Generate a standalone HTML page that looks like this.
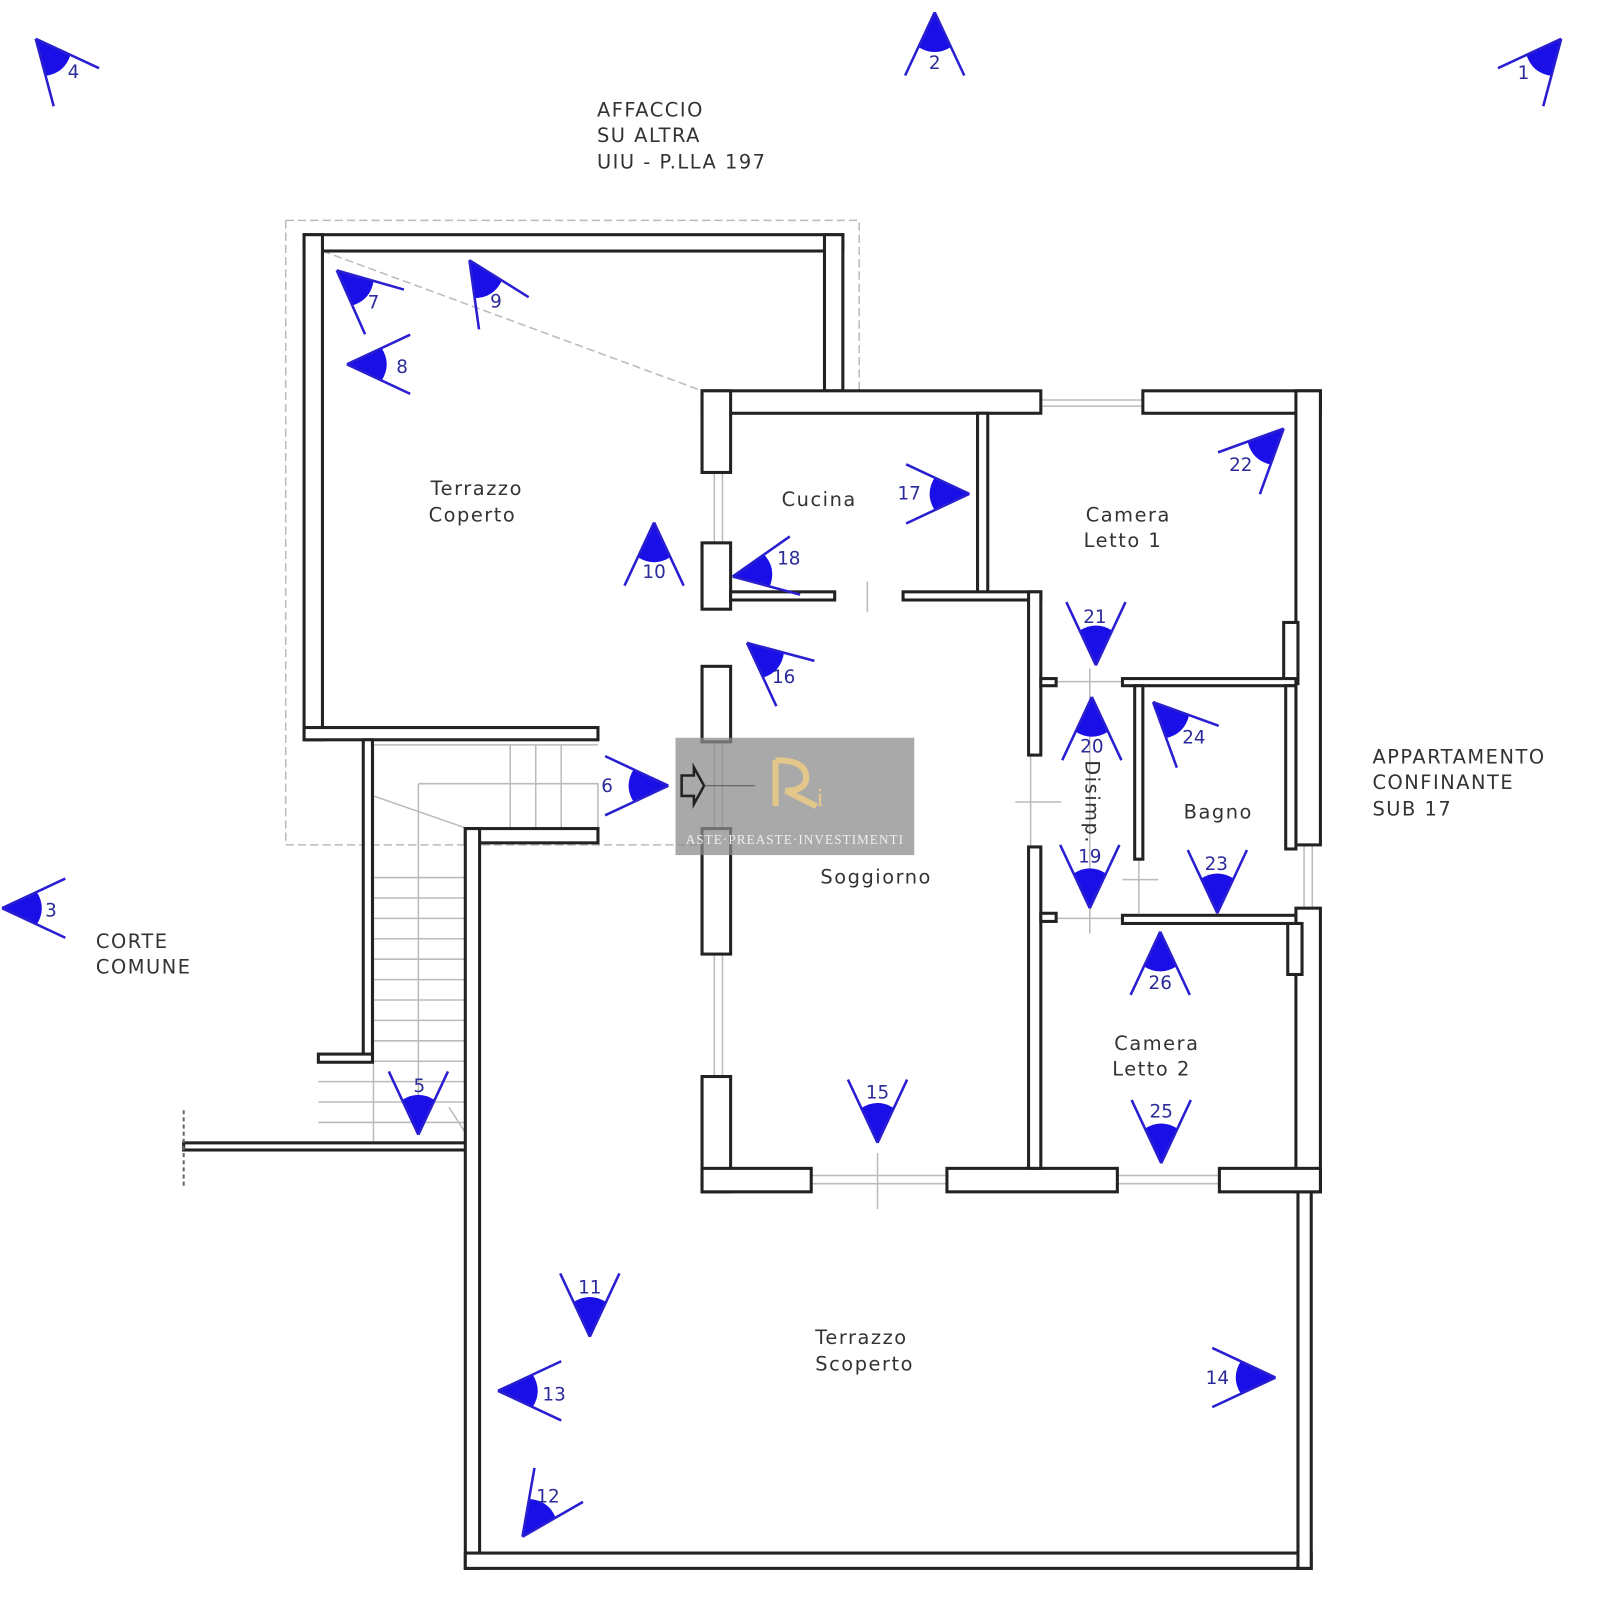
<!DOCTYPE html>
<html><head><meta charset="utf-8"><style>
html,body{margin:0;padding:0;background:#fff}
svg{display:block}
.l{font-family:"DejaVu Sans",sans-serif;font-size:19px;fill:#333;letter-spacing:1.5px}
.n{font-family:"DejaVu Sans",sans-serif;font-size:18px;fill:#2b2b9a;text-anchor:middle;dominant-baseline:central}
.w{fill:#fff;stroke:#222;stroke-width:3}
.g{stroke:#bbb;stroke-width:1.5;fill:none}
</style></head><body>
<svg width="1600" height="1600" viewBox="0 0 1568 1568" xmlns="http://www.w3.org/2000/svg">
<defs>
<g id="m">
<path d="M0,0 L-34,-16 Q-44,0 -34,16 Z" fill="#1a0fe6"/>
<path d="M0,0 L-62,-29 M0,0 L-62,29" stroke="#2a1fd0" stroke-width="2.5" fill="none"/>
</g>
</defs>
<path class="g" d="M280,216 H842 V383 M280,216 V828 H688 M316,246 L688,383" stroke-dasharray="8 4"/>
<path class="g" d="M366,730 V1125 M366,730 H586 M410,768 H586 V828 M410,768 V1100 M366,780 L458,812 M366,1040 H456 M366,1060 H456 M366,1080 H456 M366,1100 H456 M312,1060 H366 M312,1080 H366 M312,1100 H366 M366,860 H456 M366,880 H456 M366,900 H456 M366,920 H456 M366,940 H456 M366,960 H456 M366,980 H456 M366,1000 H456 M366,1020 H456 M500,730 V812 M525,730 V812 M550,730 V812 M440,1085 L456,1110"/>
<path class="g" d="M700,463 V532 M708,463 V532 M700,727 V812 M708,727 V812 M700,935 V1055 M708,935 V1055 M795,1152 H928 M795,1160 H928 M1020,392 H1120 M1020,398 H1120 M1095,1152 H1195 M1095,1160 H1195 M1278,828 V890 M1286,828 V890 M1035,668 H1100 M1035,900 H1100 M850,570 V600 M860,1130 V1185 M1068,655 V915 M1010,740 V830 M995,786 H1040 M1100,862 H1135 M1116,840 V895"/>
<rect class="w" x="298" y="230" width="528" height="16"/>
<rect class="w" x="808" y="230" width="18" height="153"/>
<rect class="w" x="298" y="230" width="18" height="495"/>
<rect class="w" x="298" y="713" width="288" height="12"/>
<rect class="w" x="356" y="725" width="9" height="315"/>
<rect class="w" x="312" y="1033" width="53" height="8"/>
<rect class="w" x="180" y="1120" width="278" height="7"/>
<path d="M180,1088 V1165" stroke="#666" stroke-width="2" stroke-dasharray="4 3"/>
<rect class="w" x="456" y="812" width="130" height="14"/>
<rect class="w" x="456" y="812" width="14" height="725"/>
<rect class="w" x="456" y="1522" width="829" height="15"/>
<rect class="w" x="1272" y="1165" width="13" height="372"/>
<rect class="w" x="688" y="383" width="332" height="22"/>
<rect class="w" x="1120" y="383" width="174" height="22"/>
<rect class="w" x="1270" y="383" width="24" height="445"/>
<rect class="w" x="1270" y="890" width="24" height="278"/>
<rect class="w" x="1258" y="610" width="14" height="60"/>
<rect class="w" x="1262" y="905" width="14" height="50"/>
<rect class="w" x="688" y="383" width="28" height="80"/>
<rect class="w" x="688" y="532" width="28" height="65"/>
<rect class="w" x="688" y="653" width="28" height="74"/>
<rect class="w" x="688" y="812" width="28" height="123"/>
<rect class="w" x="688" y="1055" width="28" height="113"/>
<rect class="w" x="688" y="1145" width="107" height="23"/>
<rect class="w" x="928" y="1145" width="167" height="23"/>
<rect class="w" x="1195" y="1145" width="99" height="23"/>
<rect class="w" x="958" y="405" width="10" height="180"/>
<rect class="w" x="716" y="580" width="102" height="8"/>
<rect class="w" x="885" y="580" width="135" height="8"/>
<rect class="w" x="1008" y="580" width="12" height="160"/>
<rect class="w" x="1008" y="830" width="12" height="315"/>
<rect class="w" x="1020" y="665" width="15" height="7"/>
<rect class="w" x="1100" y="665" width="170" height="7"/>
<rect class="w" x="1020" y="895" width="15" height="8"/>
<rect class="w" x="1100" y="897" width="170" height="8"/>
<rect class="w" x="1112" y="672" width="8" height="170"/>
<rect class="w" x="1260" y="672" width="10" height="160"/>
<text class="l" x="585" y="114">AFFACCIO</text>
<text class="l" x="585" y="139">SU ALTRA</text>
<text class="l" x="585" y="165">UIU - P.LLA 197</text>
<text class="l" x="422" y="485">Terrazzo</text>
<text class="l" x="420" y="511">Coperto</text>
<text class="l" x="766" y="496">Cucina</text>
<text class="l" x="1064" y="511">Camera</text>
<text class="l" x="1062" y="536">Letto 1</text>
<text class="l" x="1160" y="802">Bagno</text>
<text class="l" x="804" y="866">Soggiorno</text>
<text class="l" x="1092" y="1029">Camera</text>
<text class="l" x="1090" y="1054">Letto 2</text>
<text class="l" x="799" y="1317">Terrazzo</text>
<text class="l" x="799" y="1343">Scoperto</text>
<text class="l" x="94" y="929">CORTE</text>
<text class="l" x="94" y="954">COMUNE</text>
<text class="l" x="1345" y="748">APPARTAMENTO</text>
<text class="l" x="1345" y="773">CONFINANTE</text>
<text class="l" x="1345" y="799">SUB 17</text>
<text class="l" transform="translate(1064,745) rotate(90)">Disimp.</text>
<use href="#m" transform="translate(1530,38) rotate(-50)"/><text class="n" x="1493" y="72">1</text>
<use href="#m" transform="translate(916,12) rotate(-90)"/><text class="n" x="916" y="62">2</text>
<use href="#m" transform="translate(2,890) rotate(180)"/><text class="n" x="50" y="893">3</text>
<use href="#m" transform="translate(35,38) rotate(-130)"/><text class="n" x="72" y="71">4</text>
<use href="#m" transform="translate(410,1112) rotate(90)"/><text class="n" x="411" y="1065">5</text>
<use href="#m" transform="translate(655,770) rotate(0)"/><text class="n" x="595" y="771">6</text>
<use href="#m" transform="translate(330,265) rotate(-139)"/><text class="n" x="366" y="297">7</text>
<use href="#m" transform="translate(340,357) rotate(180)"/><text class="n" x="394" y="360">8</text>
<use href="#m" transform="translate(460,255) rotate(-123)"/><text class="n" x="486" y="296">9</text>
<use href="#m" transform="translate(641,512) rotate(-90)"/><text class="n" x="641" y="561">10</text>
<use href="#m" transform="translate(578,1310) rotate(90)"/><text class="n" x="578" y="1262">11</text>
<use href="#m" transform="translate(512,1506) rotate(125)"/><text class="n" x="537" y="1467">12</text>
<use href="#m" transform="translate(488,1363) rotate(180)"/><text class="n" x="543" y="1367">13</text>
<use href="#m" transform="translate(1250,1350) rotate(0)"/><text class="n" x="1193" y="1351">14</text>
<use href="#m" transform="translate(860,1120) rotate(90)"/><text class="n" x="860" y="1071">15</text>
<use href="#m" transform="translate(732,630) rotate(-140)"/><text class="n" x="768" y="664">16</text>
<use href="#m" transform="translate(950,484) rotate(0)"/><text class="n" x="891" y="484">17</text>
<use href="#m" transform="translate(718,565) rotate(170)"/><text class="n" x="773" y="548">18</text>
<use href="#m" transform="translate(1068,890) rotate(90)"/><text class="n" x="1068" y="840">19</text>
<use href="#m" transform="translate(1070,683) rotate(-90)"/><text class="n" x="1070" y="732">20</text>
<use href="#m" transform="translate(1074,652) rotate(90)"/><text class="n" x="1073" y="605">21</text>
<use href="#m" transform="translate(1258,420) rotate(-45)"/><text class="n" x="1216" y="456">22</text>
<use href="#m" transform="translate(1193,895) rotate(90)"/><text class="n" x="1192" y="847">23</text>
<use href="#m" transform="translate(1130,688) rotate(-135)"/><text class="n" x="1170" y="723">24</text>
<use href="#m" transform="translate(1138,1140) rotate(90)"/><text class="n" x="1138" y="1090">25</text>
<use href="#m" transform="translate(1137,913) rotate(-90)"/><text class="n" x="1137" y="964">26</text>
<rect x="662" y="723" width="234" height="115" fill="#8c8c8c" fill-opacity="0.75"/>
<path d="M668,760 L680,760 L680,752 L690,770 L680,788 L680,780 L668,780 Z" fill="none" stroke="#222" stroke-width="2.5"/>
<path d="M690,770 H740" stroke="#555" stroke-width="1"/>
<path d="M760,745 V790 M760,745 Q790,745 790,762 Q790,775 770,775 L800,790" fill="none" stroke="#e3c68a" stroke-width="6"/>
<text x="800" y="790" font-family="Liberation Serif,serif" font-size="26" fill="#e3c68a">i</text>
<text x="779" y="827" text-anchor="middle" font-family="Liberation Serif,serif" font-size="13" fill="#eee" letter-spacing="1">ASTE·PREASTE·INVESTIMENTI</text>
</svg>
</body></html>
